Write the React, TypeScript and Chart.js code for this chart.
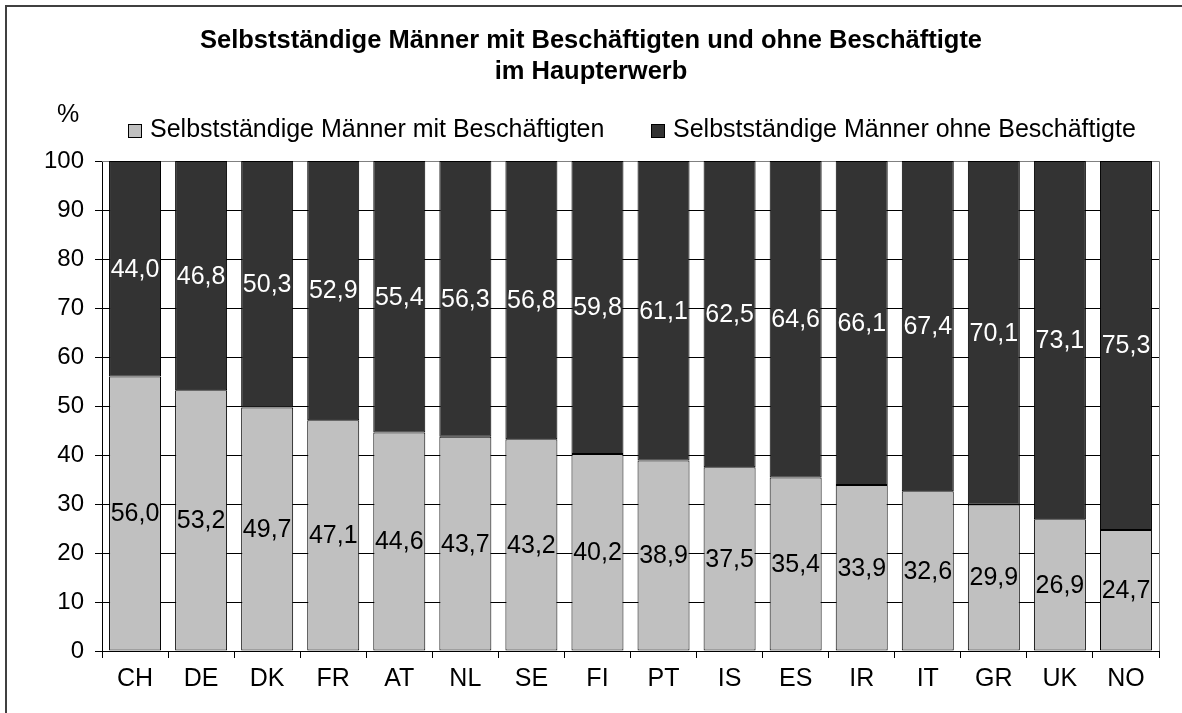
import React, { useEffect, useRef } from "react";
import { Chart, registerables } from "chart.js";

Chart.register(...registerables);

const titleLines = [
  "Selbstständige Männer mit Beschäftigten und ohne Beschäftigte",
  "im Haupterwerb",
];
const unitLabel = "%";
const categories = ["CH", "DE", "DK", "FR", "AT", "NL", "SE", "FI", "PT", "IS", "ES", "IR", "IT", "GR", "UK", "NO"];
const seriesNames = [
  "Selbstständige Männer mit Beschäftigten",
  "Selbstständige Männer ohne Beschäftigte",
];
const withEmployees = [56.0, 53.2, 49.7, 47.1, 44.6, 43.7, 43.2, 40.2, 38.9, 37.5, 35.4, 33.9, 32.6, 29.9, 26.9, 24.7];
const withoutEmployees = [44.0, 46.8, 50.3, 52.9, 55.4, 56.3, 56.8, 59.8, 61.1, 62.5, 64.6, 66.1, 67.4, 70.1, 73.1, 75.3];
const yTicks = [0, 10, 20, 30, 40, 50, 60, 70, 80, 90, 100];

const FONT = '"Liberation Sans", Arial, Helvetica, sans-serif';
const W = 1182;
const H = 713;

const fmt = (v: number) => v.toFixed(1).replace(".", ",");

export default function App() {
  const ref = useRef<HTMLCanvasElement | null>(null);

  useEffect(() => {
    if (!ref.current) return;

    const decorPlugin = {
      id: "decor",
      beforeDatasetsDraw(chart: any) {
        const { ctx, chartArea } = chart;
        ctx.save();
        ctx.strokeStyle = "#808080";
        ctx.lineWidth = 1;
        ctx.beginPath();
        ctx.moveTo(chartArea.left, chartArea.top + 0.5);
        ctx.lineTo(chartArea.right + 0.5, chartArea.top + 0.5);
        ctx.lineTo(chartArea.right + 0.5, chartArea.bottom);
        ctx.stroke();
        ctx.restore();
      },
      afterDatasetsDraw(chart: any) {
        const { ctx } = chart;
        ctx.save();
        ctx.font = `25px ${FONT}`;
        ctx.textAlign = "center";
        ctx.textBaseline = "middle";
        chart.data.datasets.forEach((ds: any, di: number) => {
          const meta = chart.getDatasetMeta(di);
          ctx.fillStyle = di === 0 ? "#000000" : "#ffffff";
          meta.data.forEach((el: any, i: number) => {
            const p = el.getProps(["x", "y", "base"], true);
            ctx.fillText(fmt(ds.data[i]), p.x, (p.y + p.base) / 2 + 1);
          });
        });
        ctx.restore();
      },
      afterDraw(chart: any) {
        const { ctx, chartArea } = chart;
        ctx.save();
        // title
        ctx.fillStyle = "#000";
        ctx.font = `bold 25.5px ${FONT}`;
        ctx.textAlign = "center";
        ctx.textBaseline = "alphabetic";
        ctx.fillText(titleLines[0], 591, 48);
        ctx.fillText(titleLines[1], 591, 79);
        // unit label
        ctx.font = `25px ${FONT}`;
        ctx.fillText(unitLabel, chartArea.left - 34, 122);
        // legend
        const boxX = [128, 651];
        chart.data.datasets.forEach((ds: any, di: number) => {
          const x = boxX[di];
          ctx.fillStyle = ds.backgroundColor;
          ctx.fillRect(x, 124, 14, 14);
          ctx.strokeStyle = "#000";
          ctx.lineWidth = 1;
          ctx.strokeRect(x + 0.5, 124.5, 13, 13);
          ctx.fillStyle = "#000";
          ctx.textAlign = "left";
          ctx.font = `25px ${FONT}`;
          ctx.fillText(ds.label, x + 22, 137);
        });
        ctx.restore();
      },
    };

    const chart = new Chart(ref.current, {
      type: "bar",
      data: {
        labels: categories,
        datasets: [
          {
            label: seriesNames[0],
            data: withEmployees,
            backgroundColor: "#c0c0c0",
            borderColor: "#000000",
            borderWidth: 1,
            borderSkipped: false,
            barPercentage: 0.787,
            categoryPercentage: 1,
          },
          {
            label: seriesNames[1],
            data: withoutEmployees,
            backgroundColor: "#333333",
            borderColor: "#000000",
            borderWidth: 1,
            borderSkipped: false,
            barPercentage: 0.787,
            categoryPercentage: 1,
          },
        ],
      },
      options: {
        animation: false,
        responsive: false,
        maintainAspectRatio: false,
        devicePixelRatio: 1,
        layout: { padding: { left: 0, right: 23, top: 161, bottom: 0 } },
        plugins: {
          legend: { display: false },
          title: { display: false },
          tooltip: { enabled: false },
        },
        scales: {
          x: {
            stacked: true,
            offset: true,
            grid: {
              display: true,
              drawOnChartArea: false,
              drawTicks: true,
              tickLength: 7,
              offset: true,
              color: "#000000",
              tickColor: "#000000",
            },
            border: { display: true, color: "#000000", width: 1 },
            ticks: {
              color: "#000000",
              font: { family: FONT, size: 25 },
              padding: 6,
              maxRotation: 0,
              autoSkip: false,
            },
            afterFit: (s: any) => {
              s.height = 62;
            },
          },
          y: {
            stacked: true,
            min: 0,
            max: 100,
            afterBuildTicks: (s: any) => {
              s.ticks = yTicks.map((v) => ({ value: v }));
            },
            grid: {
              color: (c: any) => (c.tick && c.tick.value === 100 ? "#808080" : "#000000"),
              tickColor: "#000000",
              drawTicks: true,
              tickLength: 7,
            },
            border: { display: true, color: "#000000", width: 1 },
            ticks: {
              color: "#000000",
              font: { family: FONT, size: 24 },
              padding: 11,
            },
            afterFit: (s: any) => {
              s.width = 102;
            },
          },
        },
      },
      plugins: [decorPlugin],
    } as any);

    return () => chart.destroy();
  }, []);

  return (
    <div
      style={{
        position: "fixed",
        left: 0,
        top: 0,
        width: W,
        height: H,
        overflow: "hidden",
        background: "#ffffff",
      }}
    >
      <div
        style={{
          position: "absolute",
          left: 5,
          top: 5,
          width: 1300,
          height: 900,
          borderLeft: "2px solid #404040",
          borderTop: "2px solid #404040",
        }}
      />
      <canvas
        ref={ref}
        width={W}
        height={H}
        style={{ position: "absolute", left: 0, top: 0, width: W, height: H }}
      />
    </div>
  );
}
